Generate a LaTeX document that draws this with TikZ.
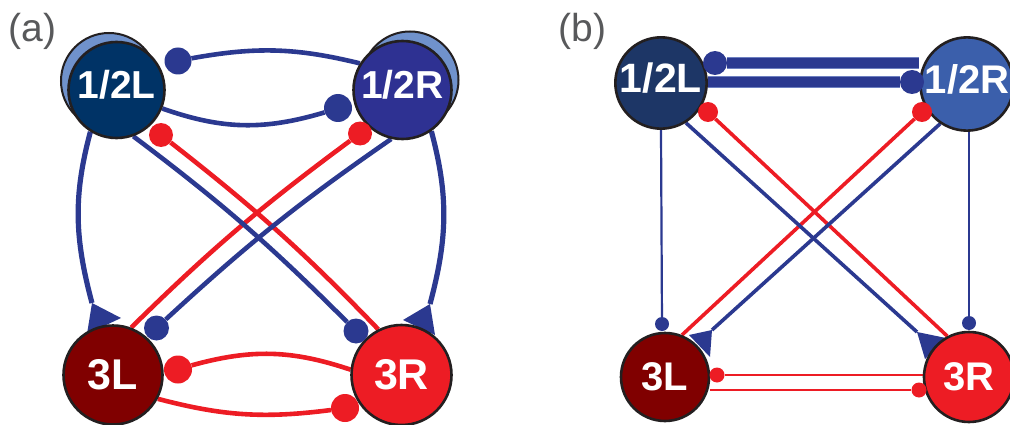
\documentclass[tikz,border=0pt]{standalone}
\usepackage{fontspec}
\setmainfont{Liberation Sans}
\usetikzlibrary{backgrounds}

\definecolor{netblue}{HTML}{2B3990}
\definecolor{netred}{HTML}{ED1C24}
\definecolor{rimgray}{HTML}{231F20}
\definecolor{navyA}{HTML}{003366}
\definecolor{indigoA}{HTML}{2E3192}
\definecolor{haloblue}{HTML}{7092CC}
\definecolor{darkmaroon}{HTML}{800000}
\definecolor{navyB}{HTML}{1D3666}
\definecolor{steelB}{HTML}{3B5FAB}
\definecolor{baredge}{HTML}{6D7FC0}
\definecolor{labelgray}{HTML}{58595B}

\tikzset{
  cell/.style={circle, draw=rimgray, line width=2.6pt, inner sep=0pt, text=white},
  bigtxt/.style={font=\bfseries\fontsize{#1}{#1}\selectfont},
  halo/.style={circle, draw=rimgray, line width=2pt, fill=haloblue, inner sep=0pt},
  dotnode/.style={circle, fill=#1, inner sep=0pt},
  panel/.style={text=labelgray, font=\fontsize{39}{39}\selectfont},
  wireA/.style={line width=4.6pt, draw=#1},
  sideA/.style={line width=5.2pt, draw=#1},
  wireB/.style={line width=3.6pt, draw=#1},
  hairB/.style={line width=2.2pt, draw=#1},
  thinred/.style={line width=2.9pt, draw=netred},
  barB/.style={draw=baredge, line width=0.8pt, double=netblue, double distance=10pt},
  trihead/.style={fill=netblue},
}

\begin{document}
\begin{tikzpicture}[x=1pt,y=1pt]
\useasboundingbox (0,0) rectangle (1010,424);

% ---------- panel (a) ----------
\node[panel] (lblA) at (32.5,392.5) {(a)};

\node[halo, minimum size=96pt] (haloL) at (109,343) {};
\node[halo, minimum size=97pt] (haloR) at (410,344) {};
\node[cell, fill=navyA, minimum size=96pt, bigtxt=39, text depth=10.5pt] (aL12) at (116.5,334) {1/2L};
\node[cell, fill=indigoA, minimum size=98pt, bigtxt=39, text depth=10.5pt] (aR12) at (402.5,334) {1/2R};
\node[cell, fill=darkmaroon, minimum size=99pt, bigtxt=43] (aL3) at (113,49) {3L};
\node[cell, fill=netred, minimum size=100pt, bigtxt=43] (aR3) at (401.5,49) {3R};

\node[dotnode=netblue, minimum size=27pt] (aD1) at (178,363) {};
\node[dotnode=netblue, minimum size=28pt] (aD2) at (338,316) {};
\node[dotnode=netred, minimum size=24pt] (aD3) at (161,289) {};
\node[dotnode=netred, minimum size=24pt] (aD4) at (360,290.5) {};
\node[dotnode=netblue, minimum size=25pt] (aD5) at (356,93) {};
\node[dotnode=netblue, minimum size=25pt] (aD6) at (156.5,96) {};
\node[dotnode=netred, minimum size=28pt] (aD7) at (178,54.5) {};
\node[dotnode=netred, minimum size=28pt] (aD8) at (345,16) {};

% apexes of the triangular heads
\coordinate (aTL) at (92,121);
\coordinate (aTR) at (430,120);

\begin{scope}[on background layer]
  \draw[wireA=netblue] (aD1) to[bend left=12] (aR12.148);
  \draw[wireA=netblue] (aL12.-22) to[bend right=18] (aD2);
  \draw[wireA=netred] (aD3) to[bend left=4] (aR3.117);
  \draw[wireA=netred] (aL3.69) to[bend left=4] (aD4);
  \draw[wireA=netblue] (aL12.-70) to[bend left=4] (aD5);
  \draw[wireA=netblue] (aR12.-103) to[bend right=4] (aD6);
  \draw[sideA=netblue] (aL12.-122) to[out=-105,in=105] (aTL);
  \draw[sideA=netblue] (aR12.-55) to[out=-75,in=75] (aTR);
  \fill[trihead] (aTL) -- (121,106) -- (87,90) -- cycle;
  \fill[trihead] (aTR) -- (403,104) -- (435,89) -- cycle;
  \draw[wireA=netred] (aD7) to[bend left=17] (aR3.174);
  \draw[wireA=netred] (aL3.-28) to[bend right=11] (aD8);
\end{scope}

% ---------- panel (b) ----------
\node[panel] (lblB) at (582.5,392.5) {(b)};

\node[cell, fill=navyB, minimum size=90pt, bigtxt=41, text depth=10.5pt] (bL12) at (661,341) {1/2L};
\node[cell, fill=steelB, minimum size=88pt, bigtxt=40, text depth=10.5pt] (bR12) at (967,340) {1/2R};
\node[cell, fill=darkmaroon, minimum size=88pt, bigtxt=40] (bL3) at (665,47) {3L};
\node[cell, fill=netred, minimum size=90pt, bigtxt=40] (bR3) at (969,47) {3R};

\node[dotnode=netblue, minimum size=24pt] (bD9) at (715,361) {};
\node[dotnode=netblue, minimum size=24pt] (bD10) at (912,342) {};
\node[dotnode=netred, minimum size=20pt] (bD11) at (708,312) {};
\node[dotnode=netred, minimum size=20pt] (bD12) at (922,312) {};
\node[dotnode=netblue, minimum size=14pt] (bD13) at (662,100) {};
\node[dotnode=netblue, minimum size=14pt] (bD14) at (969,101) {};
\node[dotnode=netred, minimum size=15pt] (bD15) at (717,49) {};
\node[dotnode=netred, minimum size=15pt] (bD16) at (919,34) {};

\coordinate (bTL) at (712,94);
\coordinate (bTR) at (917,92);

\begin{scope}[on background layer]
  \draw[barB] (bD9) -- (bD9 -| bR12.west);
  \draw[barB] (bD10 -| bL12.east) -- (bD10);
  \draw[wireB=netred] (bD11) -- (bR3.118);
  \draw[wireB=netred] (bD12) -- (bL3.68);
  \draw[wireB=netblue] (bL12.-58) -- (bTR);
  \draw[wireB=netblue] (bR12.-124) -- (bTL);
  \fill[trihead] (bTL) -- (689,89) -- (710,67) -- cycle;
  \fill[trihead] (bTR) -- (946,86) -- (925,65) -- cycle;
  \draw[hairB=netblue] (bL12.south) -- (bD13);
  \draw[hairB=netblue] (bD14 |- bR12.south) -- (bD14);
  \draw[thinred] (bD15) -- (bD15 -| bR3.west);
  \draw[thinred] (bD16 -| bL3.east) -- (bD16);
\end{scope}
\end{tikzpicture}
\end{document}
